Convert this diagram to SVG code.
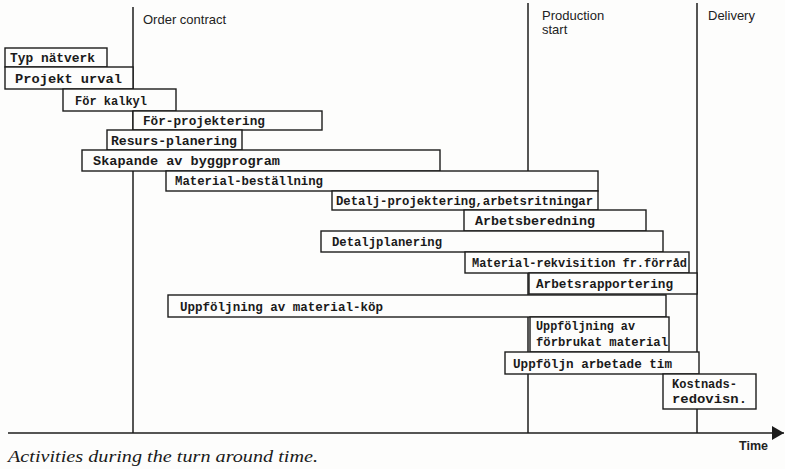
<svg xmlns="http://www.w3.org/2000/svg" width="785" height="469" viewBox="0 0 785 469">
  <style>
    .bg { fill: #fdfdfc; }
    .line { stroke: #1c1c1c; stroke-width: 1.5; fill: none; }
    .box { fill: #fdfdfc; stroke: #1c1c1c; stroke-width: 1.4; }
    .act { font-family: "Liberation Mono", "DejaVu Sans Mono", monospace; font-weight: bold; font-size: 13px; fill: #1a1a1a; }
    .mile { font-family: "Liberation Sans", Arial, sans-serif; font-size: 13px; fill: #222; }
    .time { font-family: "Liberation Sans", Arial, sans-serif; font-size: 12.5px; font-weight: bold; fill: #222; }
    .caption { font-family: "Liberation Serif", "Times New Roman", serif; font-style: italic; font-size: 17px; fill: #1a1a1a; }
  </style>
  <defs>
    <marker id="arrow" viewBox="0 0 12 14" refX="12" refY="7" markerWidth="12" markerHeight="14" markerUnits="userSpaceOnUse" orient="auto">
      <path d="M0,0 L12,7 L0,14 Z" fill="#1c1c1c"/>
    </marker>
  </defs>

  <rect class="bg" x="0" y="0" width="785" height="469"/>

  <!-- milestone lines and time axis -->
  <g id="connectors">
    <line class="line" x1="133" y1="7" x2="133" y2="433"/>
    <line class="line" x1="528" y1="3" x2="528" y2="433"/>
    <line class="line" x1="697" y1="3" x2="697" y2="433"/>
    <line class="line" x1="8" y1="433" x2="784" y2="433" marker-end="url(#arrow)"/>
  </g>

  <!-- milestone labels -->
  <g id="milestones">
    <text class="mile" x="143" y="24">Order contract</text>
    <text class="mile" x="542" y="20">Production</text>
    <text class="mile" x="542" y="34">start</text>
    <text class="mile" x="708" y="20">Delivery</text>
    <text class="time" x="739" y="450">Time</text>
  </g>

  <!-- activity bars -->
  <g id="typ-natverk">
    <rect class="box" x="5" y="48" width="102" height="19"/>
    <text class="act" x="10" y="62" textLength="85" lengthAdjust="spacingAndGlyphs">Typ nätverk</text>
  </g>
  <g id="projekt-urval">
    <rect class="box" x="5" y="67" width="128" height="22"/>
    <text class="act" x="15" y="83" textLength="107" lengthAdjust="spacingAndGlyphs">Projekt urval</text>
  </g>
  <g id="for-kalkyl">
    <rect class="box" x="63" y="89" width="113" height="22"/>
    <text class="act" x="75" y="105" textLength="72" lengthAdjust="spacingAndGlyphs">För kalkyl</text>
  </g>
  <g id="for-projektering">
    <rect class="box" x="133" y="111" width="189" height="19"/>
    <text class="act" x="143" y="125" textLength="122" lengthAdjust="spacingAndGlyphs">För-projektering</text>
  </g>
  <g id="resurs-planering">
    <rect class="box" x="107" y="130" width="135" height="20"/>
    <text class="act" x="111" y="145" textLength="126" lengthAdjust="spacingAndGlyphs">Resurs-planering</text>
  </g>
  <g id="skapande">
    <rect class="box" x="82" y="150" width="358" height="21"/>
    <text class="act" x="93" y="165" textLength="187" lengthAdjust="spacingAndGlyphs">Skapande av byggprogram</text>
  </g>
  <g id="material-bestallning">
    <rect class="box" x="166" y="171" width="432" height="20"/>
    <text class="act" x="175" y="185" textLength="148" lengthAdjust="spacingAndGlyphs">Material-beställning</text>
  </g>
  <g id="detalj-projektering">
    <rect class="box" x="332" y="191" width="266" height="19"/>
    <text class="act" x="336" y="205" textLength="257" lengthAdjust="spacingAndGlyphs">Detalj-projektering,arbetsritningar</text>
  </g>
  <g id="arbetsberedning">
    <rect class="box" x="464" y="210" width="182" height="21"/>
    <text class="act" x="475" y="225" textLength="120" lengthAdjust="spacingAndGlyphs">Arbetsberedning</text>
  </g>
  <g id="detaljplanering">
    <rect class="box" x="321" y="231" width="342" height="21"/>
    <text class="act" x="332" y="246" textLength="110" lengthAdjust="spacingAndGlyphs">Detaljplanering</text>
  </g>
  <g id="material-rekvisition">
    <rect class="box" x="465" y="252" width="224" height="21"/>
    <text class="act" x="472" y="267" textLength="215" lengthAdjust="spacingAndGlyphs">Material-rekvisition fr.förråd</text>
  </g>
  <g id="arbetsrapportering">
    <rect class="box" x="529" y="273" width="168" height="21"/>
    <text class="act" x="536" y="288" textLength="137" lengthAdjust="spacingAndGlyphs">Arbetsrapportering</text>
  </g>
  <g id="uppfoljning-materialkop">
    <rect class="box" x="168" y="295" width="498" height="22"/>
    <text class="act" x="180" y="311" textLength="203" lengthAdjust="spacingAndGlyphs">Uppföljning av material-köp</text>
  </g>
  <g id="uppfoljning-forbrukat">
    <rect class="box" x="530" y="317" width="139" height="35"/>
    <text class="act" x="536" y="330" textLength="99" lengthAdjust="spacingAndGlyphs">Uppföljning av</text>
    <text class="act" x="536" y="346" textLength="132" lengthAdjust="spacingAndGlyphs">förbrukat material</text>
  </g>
  <g id="uppfoljn-arbetade-tim">
    <rect class="box" x="505" y="352" width="194" height="22"/>
    <text class="act" x="513" y="368" textLength="159" lengthAdjust="spacingAndGlyphs">Uppföljn arbetade tim</text>
  </g>
  <g id="kostnadsredovisn">
    <rect class="box" x="663" y="374" width="93" height="35"/>
    <text class="act" x="672" y="388" textLength="65" lengthAdjust="spacingAndGlyphs">Kostnads-</text>
    <text class="act" x="672" y="403" textLength="75" lengthAdjust="spacingAndGlyphs">redovisn.</text>
  </g>

  <text class="caption" x="8" y="462" textLength="310" lengthAdjust="spacingAndGlyphs">Activities during the turn around time.</text>
</svg>
